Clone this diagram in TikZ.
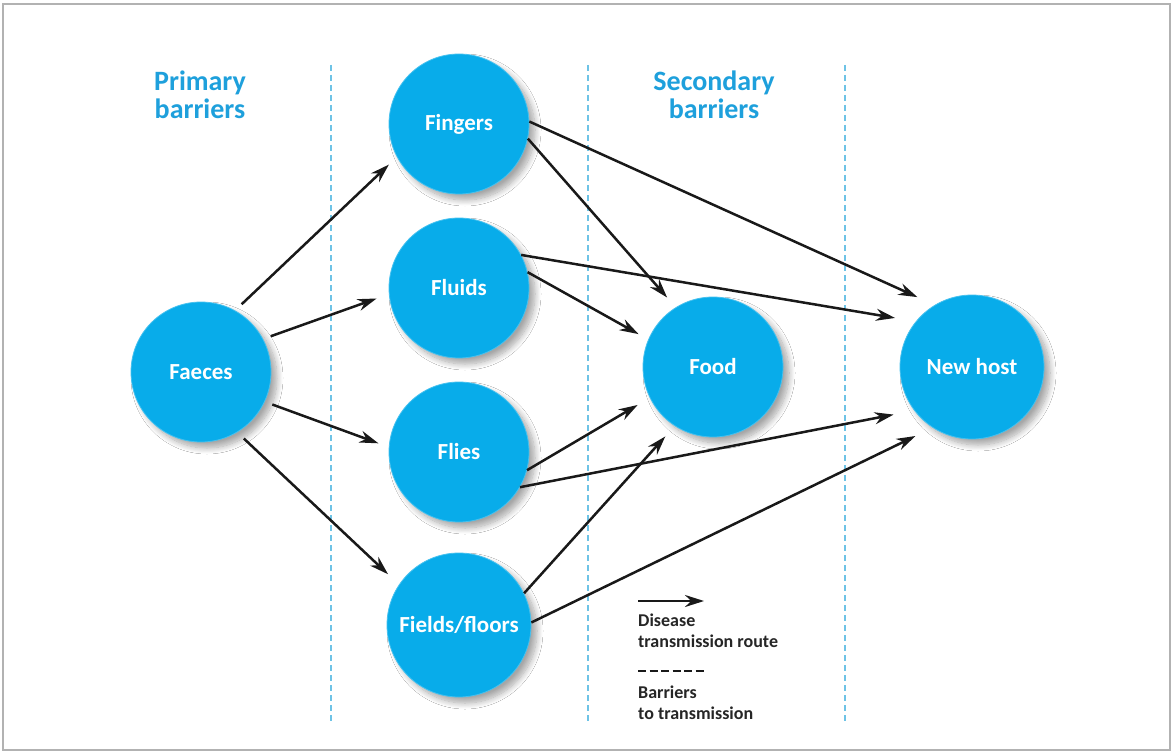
\documentclass[tikz,border=0pt]{standalone}
\usepackage{fontspec}
\setmainfont{Carlito}
\usetikzlibrary{arrows.meta,shadows.blur}
\definecolor{circ}{RGB}{8,172,234}
\definecolor{headblue}{RGB}{30,160,220}
\definecolor{barrier}{RGB}{110,195,230}
\begin{document}
\begin{tikzpicture}[x=1pt,y=-1pt,
  bub/.style={circle,fill=circ,draw=circ!75!white,line width=0.8pt,minimum size=140pt,inner sep=0pt,text=white,
    font=\bfseries\fontsize{23}{25}\selectfont,
    blur shadow={shadow xshift=6pt,shadow yshift=-6pt,shadow blur radius=6pt,shadow blur steps=10,shadow opacity=35}},
  route/.style={-{Stealth[length=19pt,width=12pt]},line width=2.5pt,black!90},
  barline/.style={barrier,line width=1.8pt,dash pattern=on 6pt off 4pt},
  head/.style={text=headblue,font=\bfseries\fontsize{28}{28}\selectfont,align=center,anchor=north,inner sep=0pt},
  legtext/.style={font=\bfseries\fontsize{18}{20.5}\selectfont,align=left,anchor=north west,inner sep=0pt,text=black!85}]
\useasboundingbox (0,0) rectangle (1174,754);
\fill[white] (0,0) rectangle (1174,754);
\draw[gray!60,line width=2.5pt] (3,4) rectangle (1170,750);

% barrier lines
\foreach \x/\n in {331/a,588/b,845/c}{
  \coordinate (top\n) at (\x,65);
  \coordinate (bot\n) at (\x,722);
  \draw[barline] (top\n) -- (bot\n);
}

% headings
\node[head] (prim) at (200,71) {Primary\\barriers};
\node[head] (sec) at (714,71) {Secondary\\barriers};

% circles
\node[bub] (faeces) at (201,372) {Faeces};
\node[bub] (fingers) at (459,124) {Fingers};
\node[bub] (fluids) at (459,288) {Fluids};
\node[bub] (flies) at (459,452) {Flies};
\node[bub,minimum size=144pt] (fields) at (459,625) {Fields/floors};
\node[bub] (food) at (713,367) {Food};
\node[bub,minimum size=144pt] (newhost) at (972,367) {New host};

% routes
\draw[route,shorten <=9pt,shorten >=11pt] (faeces.61) -- (fingers.208);
\draw[route,shorten <=8pt,shorten >=13pt] (faeces.28) -- (fluids.185);
\draw[route,shorten <=8pt,shorten >=11pt] (faeces.-25) -- (flies.176);
\draw[route,shorten <=9pt,shorten >=15pt] (faeces.-59) -- (fields.146);
\draw[route,shorten >=19pt] (fingers.2) -- (newhost.121);
\draw[route,shorten >=13pt] (fingers.-12) -- (food.122);
\draw[route,shorten >=21pt] (fluids.28) -- (newhost.141);
\draw[route,shorten >=11pt] (fluids.13) -- (food.157);
\draw[route,shorten >=14pt] (flies.-15) -- (food.206);
\draw[route,shorten >=21pt] (flies.-30) -- (newhost.217);
\draw[route,shorten >=14pt] (fields.26) -- (food.237);
\draw[route,shorten >=19pt] (fields.2) -- (newhost.237);

% legend
\coordinate (legA) at (638,601);
\coordinate (legB) at (704,601);
\draw[route] (legA) -- (legB);
\node[legtext] (legroute) at (638,614) {Disease\\transmission route};
\coordinate (legC) at (638,671);
\coordinate (legD) at (704,671);
\draw[black!90,line width=2.8pt,dash pattern=on 8pt off 3.5pt] (legC) -- (legD);
\node[legtext] (legbar) at (638,686) {Barriers\\to transmission};
\end{tikzpicture}
\end{document}
